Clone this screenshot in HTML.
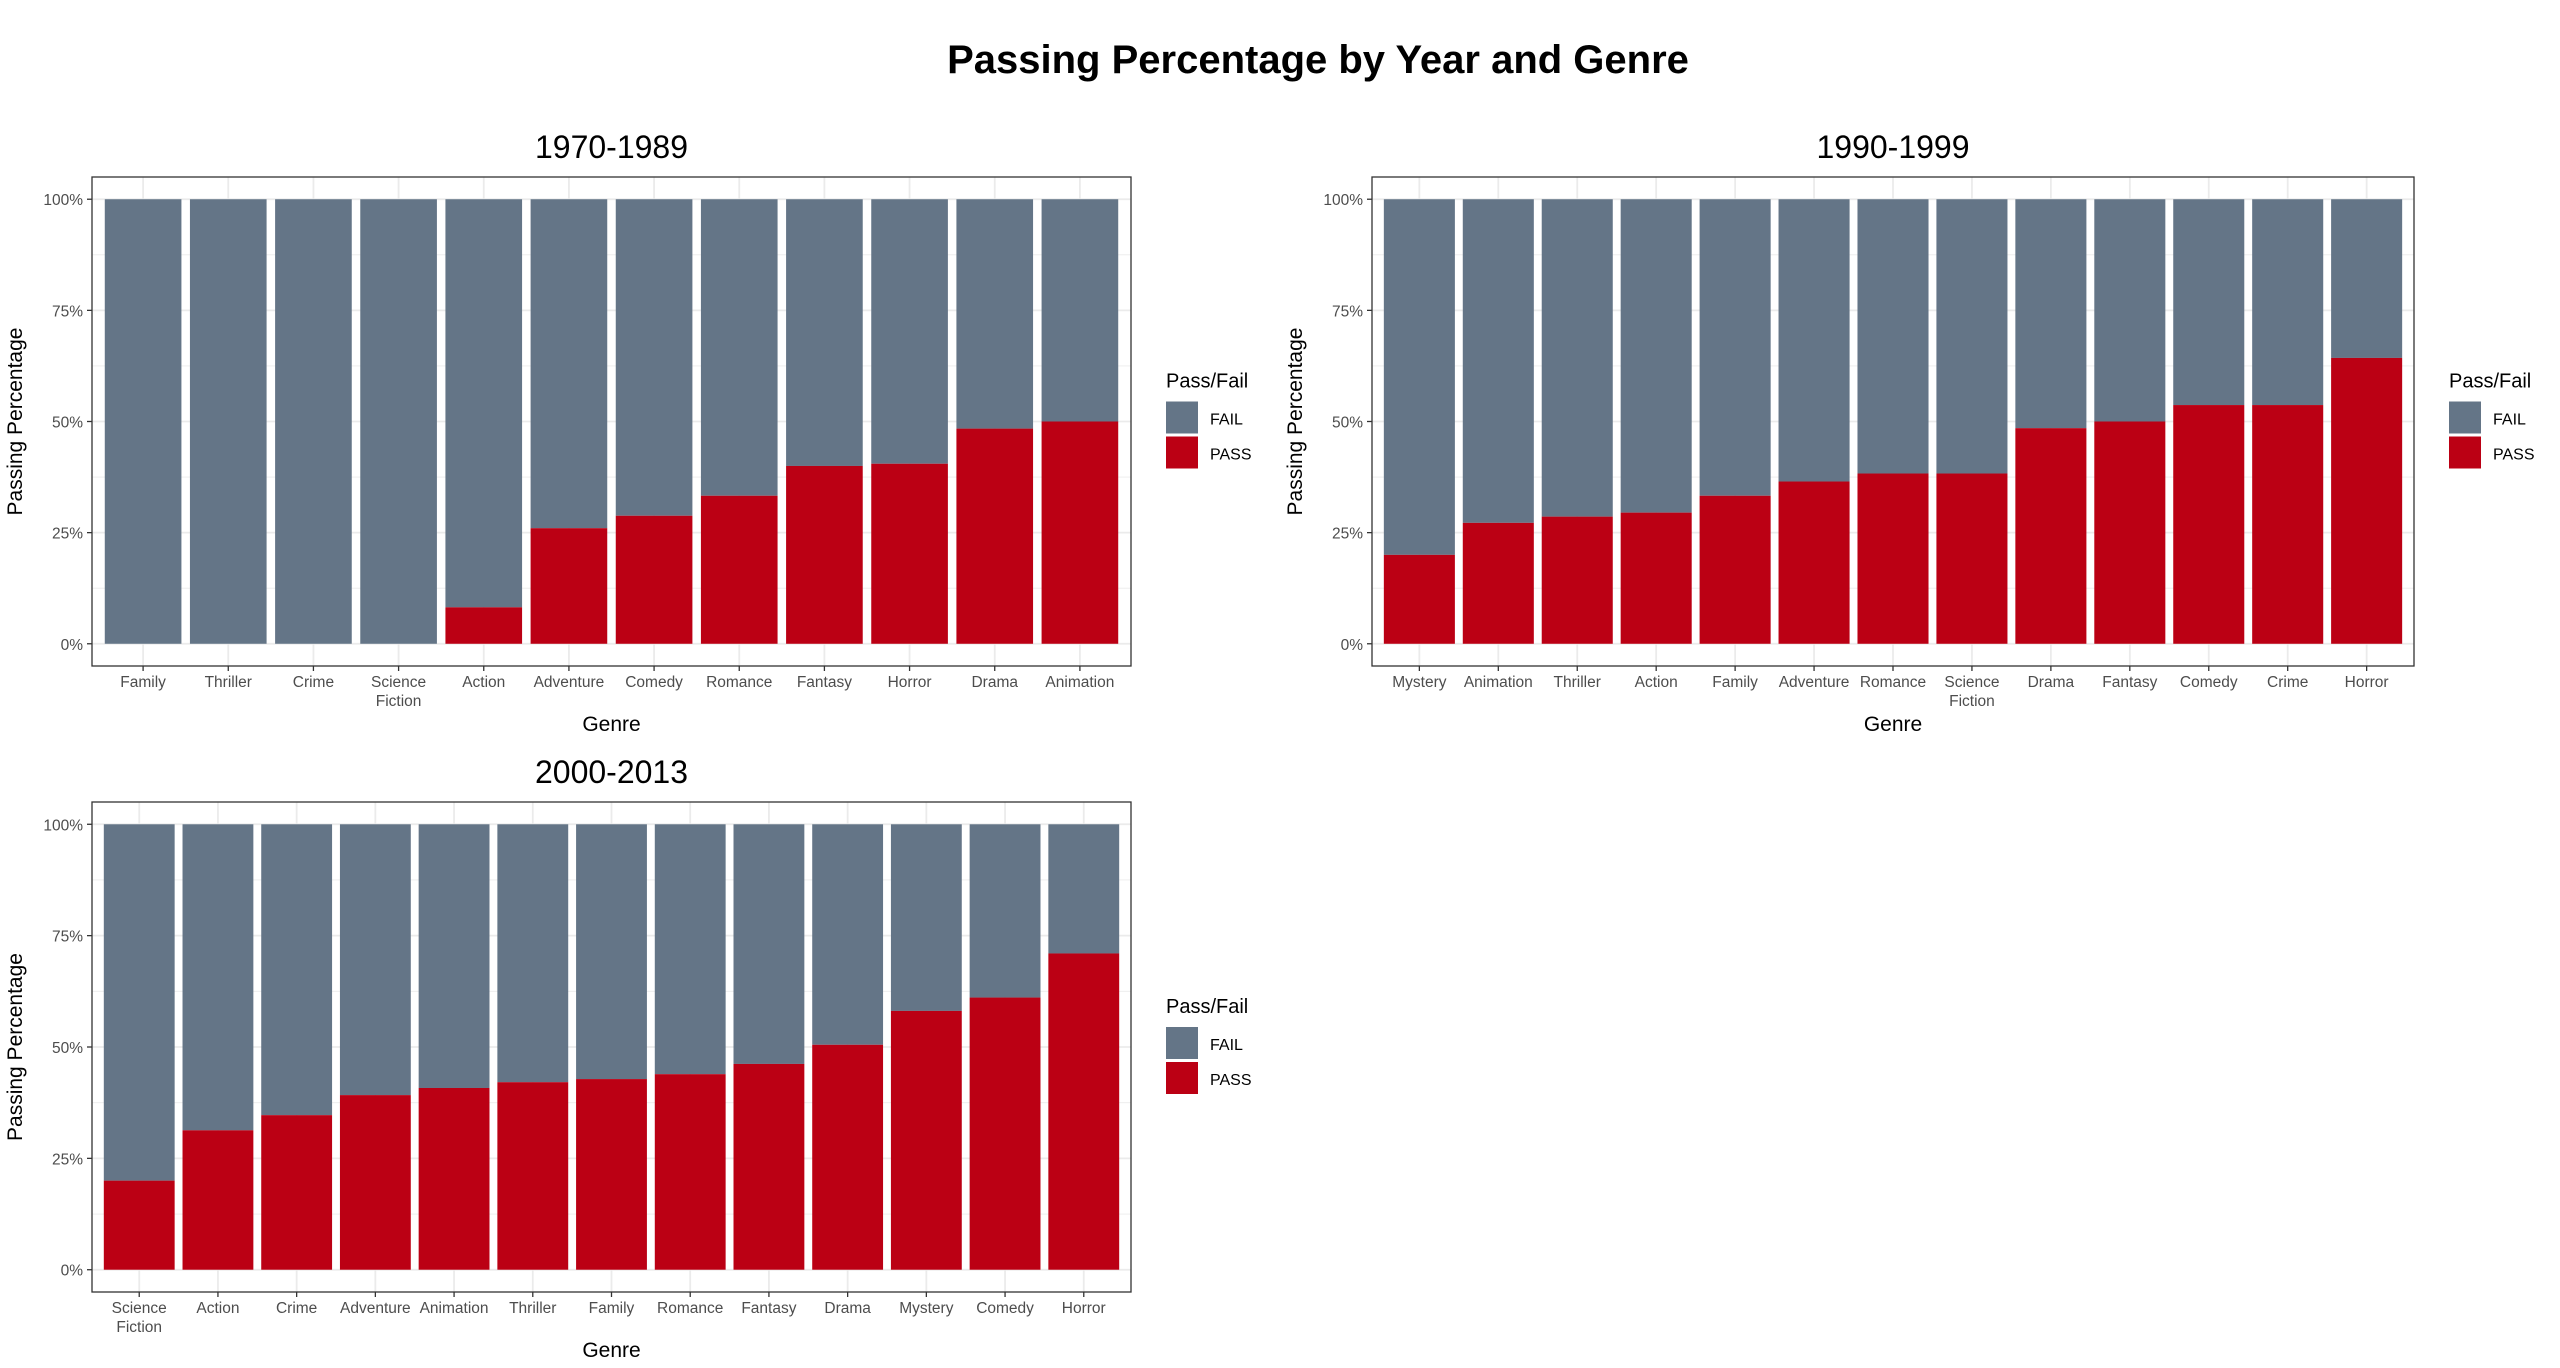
<!DOCTYPE html>
<html><head><meta charset="utf-8">
<style>
html,body{margin:0;padding:0;background:#fff;}
svg{display:block;font-family:"Liberation Sans",Arial,sans-serif;}
</style></head>
<body>
<svg id="chart" width="2560" height="1368" viewBox="0 0 2560 1368" xmlns="http://www.w3.org/2000/svg">
<rect x="0" y="0" width="2560" height="1368" fill="#fff"/>
<text x="1318" y="73" text-anchor="middle" font-size="40" font-weight="bold" fill="#000">Passing Percentage by Year and Genre</text>
</svg>
<script>
const cats1 = ["Family","Thriller","Crime","Science\nFiction","Action","Adventure","Comedy","Romance","Fantasy","Horror","Drama","Animation"];
const pass1 = [0,0,0,0,8.2,26,28.8,33.3,40,40.5,48.4,50];
const cats2 = ["Mystery","Animation","Thriller","Action","Family","Adventure","Romance","Science\nFiction","Drama","Fantasy","Comedy","Crime","Horror"];
const pass2 = [20,27.2,28.6,29.5,33.3,36.5,38.3,38.3,48.5,50,53.7,53.7,64.3];
const cats3 = ["Science\nFiction","Action","Crime","Adventure","Animation","Thriller","Family","Romance","Fantasy","Drama","Mystery","Comedy","Horror"];
const pass3 = [20,31.3,34.7,39.2,40.8,42.1,42.8,43.9,46.2,50.5,58.1,61.1,71];
const titles = ["1970-1989","1990-1999","2000-2013"];
const yTicks = [0,25,50,75,100];
const yTickLabels = ["0%","25%","50%","75%","100%"];

const NS = "http://www.w3.org/2000/svg";
const svg = document.getElementById("chart");
function mk(tag, attrs, parent){
  const e = document.createElementNS(NS, tag);
  for (const k in attrs) e.setAttribute(k, attrs[k]);
  (parent||svg).appendChild(e);
  return e;
}
const FAIL = "#647587", PASS = "#bb0014";

function panel(px, pw, py, ph, cats, pass, title, idx){
  const g = mk("g", {});
  
  
  const y0 = py + ph*(1/1.1)*1.05, y100 = py + ph*(0.05/1.1);
  const yS = v => y0 - (y0 - y100) * v / 100;
  const n = cats.length, unit = pw / (n + 0.2);
  const xS = i => px + (i + 0.6) * unit;
  mk("rect", {x:px, y:py, width:pw, height:ph, fill:"#fff"}, g);
  for (let k=0;k<4;k++){
    const v = 12.5 + 25*k;
    mk("line",{x1:px,x2:px+pw,y1:yS(v),y2:yS(v),stroke:"#ebebeb","stroke-width":0.9},g);
  }
  yTicks.forEach(v=>{
    mk("line",{x1:px,x2:px+pw,y1:yS(v),y2:yS(v),stroke:"#ebebeb","stroke-width":1.8},g);
  });
  cats.forEach((c,i)=>{
    mk("line",{x1:xS(i),x2:xS(i),y1:py,y2:py+ph,stroke:"#ebebeb","stroke-width":1.8},g);
  });
  const bw = unit*0.9;
  cats.forEach((c,i)=>{
    const f = mk("rect",{x:xS(i)-bw/2, y:yS(100), width:bw, height:yS(pass[i])-yS(100), fill:FAIL},g);
    
    
    if (pass[i] > 0){
      const p = mk("rect",{x:xS(i)-bw/2, y:yS(pass[i]), width:bw, height:yS(0)-yS(pass[i]), fill:PASS},g);
      
      
    }
  });
  mk("rect",{x:px,y:py,width:pw,height:ph,fill:"none",stroke:"#333","stroke-width":1.3},g);
  yTicks.forEach((v,k)=>{
    mk("line",{x1:px-5,x2:px,y1:yS(v),y2:yS(v),stroke:"#333","stroke-width":1.3},g);
    const t = mk("text",{x:px-9,y:yS(v)+6,"text-anchor":"end","font-size":15.5,fill:"#4d4d4d"},g);
    t.textContent = yTickLabels[k];
    
    
  });
  cats.forEach((c,i)=>{
    mk("line",{x1:xS(i),x2:xS(i),y1:py+ph,y2:py+ph+5,stroke:"#333","stroke-width":1.3},g);
    c.split("\n").forEach((line,j)=>{
      const t = mk("text",{x:xS(i),y:py+ph+21+j*19,"text-anchor":"middle","font-size":15.5,fill:"#4d4d4d"},g);
      t.textContent = line;
      
      
    });
  });
  const pt = mk("text",{x:px+pw/2,y:py-19,"text-anchor":"middle","font-size":32,fill:"#000"},g);
  pt.textContent = title;
  
  
  const xt = mk("text",{x:px+pw/2,y:py+ph+65,"text-anchor":"middle","font-size":21,fill:"#000"},g);
  xt.textContent = "Genre";
  
  
  const ycx = px-70, ycy = py+ph/2;
  const yt = mk("text",{x:ycx,y:ycy,"text-anchor":"middle","font-size":21,fill:"#000",transform:`rotate(-90 ${ycx} ${ycy})`},g);
  yt.textContent = "Passing Percentage";
  
  
  const lx = px+pw+35, ly = py + ph/2 - 62;
  const lg = mk("g",{},g);
  
  
  const lt = mk("text",{x:lx,y:ly+28,"font-size":20,fill:"#000"},lg);
  lt.textContent = "Pass/Fail";
  
  
  [["FAIL",FAIL],["PASS",PASS]].forEach((e,k)=>{
    const ky = ly+42+k*35;
    const r = mk("rect",{x:lx,y:ky,width:32,height:32,fill:e[1]},lg);
    
    
    const t = mk("text",{x:lx+44,y:ky+23,"font-size":16,fill:"#000"},lg);
    t.textContent = e[0];
    
    
  });
}
panel(92, 1039, 177, 489, cats1, pass1, titles[0], 0);
panel(1372, 1042, 177, 489, cats2, pass2, titles[1], 1);
panel(92, 1039, 802, 490, cats3, pass3, titles[2], 2);
</script>
</body></html>
